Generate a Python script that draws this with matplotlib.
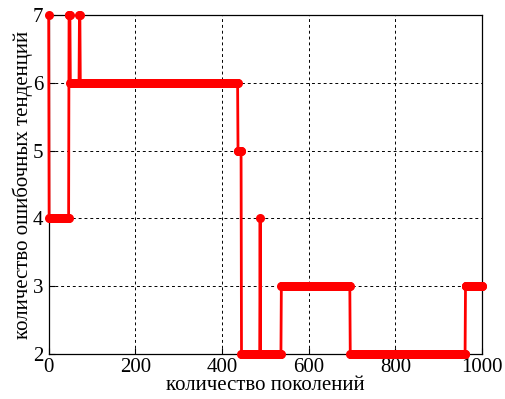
import numpy as np
import matplotlib
matplotlib.use("Agg")
import matplotlib.pyplot as plt

plt.rc('font', family='Liberation Serif', size=15)

# step changes: generation where a new value starts, and the value
starts = [0, 1, 47, 50, 71, 73, 437, 445, 488, 489, 537, 696, 962]
values = [7, 4, 7, 6, 7, 6, 5, 2, 4, 2, 3, 2, 3]
last_gen = 1000

lengths = np.diff(starts + [last_gen + 1])
gens = np.arange(0, last_gen + 1)
errs = np.repeat(values, lengths)

fig = plt.figure(figsize=(5.05, 3.99), dpi=100)
ax = fig.add_axes([0.0964, 0.1128, 0.858, 0.8496])

ax.plot(gens, errs, '-o', color='red', lw=2, ms=6.5, mec='none',
        clip_on=False, zorder=3)

ax.set_xlim(0, 1000)
ax.set_ylim(2, 7)
ax.set_xticks(range(0, 1001, 200))
ax.set_yticks(range(2, 8))
ax.grid(True, color='black', linestyle=(0, (3, 3)), linewidth=0.7)
ax.tick_params(direction='in', length=4)
ax.tick_params(axis='x', pad=3)
ax.tick_params(axis='y', pad=4)
for s in ax.spines.values():
    s.set_linewidth(0.9)

ax.set_xlabel('количество поколений', labelpad=-1)
ax.set_ylabel('количество ошибочных тенденций', labelpad=0)

plt.savefig('out.png', dpi=100)
